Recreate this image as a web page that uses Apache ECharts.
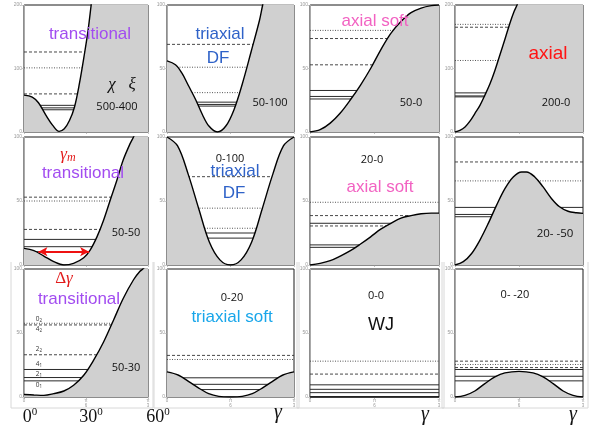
<!DOCTYPE html>
<html>
<head>
<meta charset="utf-8">
<script src="https://cdn.jsdelivr.net/npm/echarts@6/dist/echarts.min.js"></script>
<style>
  html, body { margin: 0; padding: 0; background: #fff; }
  #chart { width: 589px; height: 428px; }
</style>
</head>
<body>
<div id="chart"></div>
<script>
// Potential V(γ) for each parameter set, γ in degrees (0..60), as [γ, V] pairs
const curve500_400 = [[0,58],[4,55],[7,46],[10.5,27],[14,10],[17,1],[19.5,5],[22,18],[24.4,39],[26.8,76],[29.3,124],[31,160],[32.5,200],[34,240],[60,240]];
const curve50_100  = [[0,56],[4,53],[7,46.5],[10.3,36],[13.5,25.6],[16.7,13.8],[19.8,4.7],[23.8,0],[27.8,4.7],[31.7,17.8],[35.7,38.6],[39.7,63],[43.7,88],[45.2,100],[47,112],[60,120]];
const curve50_0    = [[0,0],[4.7,1.8],[9.4,7],[14.1,15],[18.8,25.4],[23.5,37],[28.2,50],[32.9,64.7],[37.6,77.7],[42.3,87],[47,94],[51.7,97.6],[56.4,99.5],[60,100]];
const curve200_0   = [[0,0],[2.3,2.6],[4.7,7.9],[7,17],[9.3,29],[11.7,42],[14,58],[16.4,76],[18.7,97],[21,121],[23.4,146],[25.7,171],[27.6,189],[29.1,200],[30.5,212],[60,230]];
const curve50_50   = [[0,13],[4.8,11.2],[9.6,7],[14.4,2.6],[19.3,0],[24,1.3],[28.9,5.7],[32,11.7],[35.3,22],[38.5,35],[41.7,50.6],[44.9,66],[48,82],[51.4,95],[53,100],[55,107],[60,115]];
const curve0_100   = [[0,100],[5,93],[10,71],[15,44],[20,18],[25,4],[30,0],[35,4],[40,18],[45,44],[50,71],[55,93],[60,100]];
const curve20_0    = [[0,0],[4.7,1.3],[9.4,3.4],[14.1,7],[18.8,11.2],[23.5,16.4],[28.2,22],[32.9,28],[37.6,32.6],[42.3,36.6],[47,38.6],[51.7,40],[56.4,40.5],[60,40.5]];
const curve20_m50  = [[0,0],[3.9,2.6],[7.8,9],[11.7,19.5],[15.6,32.5],[19.5,46.8],[23.4,59.7],[27.3,68.8],[31.2,72.7],[33.5,72.7],[37.4,68.8],[41.3,61],[45.2,52],[49,45.5],[53,42],[56.9,40.8],[60,40.3]];
const curve50_30   = [[0,2],[4.8,1.6],[9.6,1.3],[14.4,2.6],[19.3,4.7],[24,9.2],[28.9,17],[33.7,28.8],[38.5,43],[43.3,60],[48,77],[53,91.6],[56,98],[57.5,100],[60,104]];
const curve0_20    = [[0,19.6],[5.5,17],[10.3,12],[15,7],[19.7,2.6],[24.5,0.5],[30,0],[35.5,0.5],[40.3,2.6],[45,7],[49.7,12],[54.5,17],[60,19.6]];
const curve0_0     = [[0,0],[60,0]];
const curve0_m20   = [[0,0],[4.7,1.3],[9.3,4.7],[14,10.5],[18.7,15.7],[23.4,18.8],[30,20],[36.6,18.8],[41.3,15.7],[46,10.5],[50.7,4.7],[55.3,1.3],[60,0]];

// Energy levels for each parameter set, grouped by how the line is drawn
const levels500_400 = { solid: [35, 38, 42],       dashed: [60, 126],   dotted: [101] };
const levels50_100  = { solid: [20.4, 21.7, 23.5], dashed: [69],        dotted: [31, 51] };
const levels50_0    = { solid: [26, 28, 32.7],     dashed: [52.9, 73.6], dotted: [80] };
const levels200_0   = { solid: [55.3, 56.8, 61.6], dashed: [165],       dotted: [112.6, 169.5] };
const levels50_50   = { solid: [10.4, 14.3, 20],   dashed: [27.8, 53],  dotted: [50] };
const levels0_100   = { solid: [21, 25],           dashed: [69],        dotted: [28.7, 44.4] };
const levels20_0    = { solid: [13.8, 15.7, 32.6], dashed: [30.5, 38.6], dotted: [49] };
const levels20_m50  = { solid: [37.7, 39.5, 45],   dashed: [80.5],      dotted: [65.7] };
const levels50_30   = { solid: [12.6, 15.2, 21.5], dashed: [33, 56.3],  dotted: [57.6] };
const levels0_20    = { solid: [5.8, 9.9, 15],     dashed: [32.5],      dotted: [29.3] };
const levels0_0     = { solid: [3.4, 6, 9.5],      dashed: [17.9],      dotted: [28] };
const levels0_m20   = { solid: [12.6, 16.2, 21.5], dashed: [23, 28],    dotted: [25.4] };

// Ground-state width Δγ drawn in the 50-50 panel
const deltaGammaRange = [7, 31.5];
const deltaGammaLevel = 10.4;

// Parameter-set names and their y-axis maxima, in panel order
const panelNames = ['500-400', '50-100', '50-0', '200-0', '50-50', '0-100', '20-0', '20- -50', '50-30', '0-20', '0-0', '0- -20'];
const panelYMax  = [200, 100, 100, 200, 100, 100, 100, 100, 100, 100, 100, 100];
const panelCurves = [curve500_400, curve50_100, curve50_0, curve200_0, curve50_50, curve0_100, curve20_0, curve20_m50, curve50_30, curve0_20, curve0_0, curve0_m20];
const panelLevels = [levels500_400, levels50_100, levels50_0, levels200_0, levels50_50, levels0_100, levels20_0, levels20_m50, levels50_30, levels0_20, levels0_0, levels0_m20];

// γ axis: 0, π/6, π/3
const gammaTicks = [0, 30, 60];
const gammaTickLabels = ['0', 'π\n6', 'π\n3'];
const gammaDegreeLabels = ['0', '30', '60'];

const colLayout = [[24, 124], [167, 127], [310, 129], [455, 128]];
const rowLayout = [[5, 127], [137, 128], [269, 128]];

const grid = [], xAxis = [], yAxis = [], series = [];

panelNames.forEach((name, i) => {
  const c = colLayout[i % 4], r = rowLayout[Math.floor(i / 4)];
  const bottomRow = Math.floor(i / 4) === 2;
  grid.push({ left: c[0], top: r[0], width: c[1], height: r[1], show: true,
              borderColor: '#1a1a1a', borderWidth: 1, backgroundColor: '#fff' });
  xAxis.push({
    gridIndex: i, type: 'value', min: gammaTicks[0], max: gammaTicks[2], interval: gammaTicks[1],
    axisLine: { show: false },
    axisTick: { show: true, length: 2, lineStyle: { color: '#999', width: 0.6 } },
    splitLine: { show: false },
    axisLabel: {
      show: bottomRow, fontSize: 4.5, lineHeight: 4.5, color: '#999', margin: 2,
      formatter: v => gammaTickLabels[gammaTicks.indexOf(v)]
    }
  });
  const ymax = panelYMax[i];
  yAxis.push({
    gridIndex: i, type: 'value', min: 0, max: ymax, interval: ymax / 2,
    axisLine: { show: true, lineStyle: { color: '#aaa', width: 1 } },
    axisTick: { show: true, length: 2, lineStyle: { color: '#aaa', width: 0.6 } },
    splitLine: { show: false },
    axisLabel: { fontSize: 5, color: '#999', margin: 2 }
  });

  const lv = panelLevels[i];
  const styles = { solid: { type: 'solid', width: 1, color: '#2a2a2a' },
                   dashed: { type: [3, 2], width: 0.9, color: '#333' },
                   dotted: { type: [1, 1.5], width: 0.9, color: '#444' } };
  Object.keys(styles).forEach(kind => {
    lv[kind].forEach(E => {
      series.push({
        type: 'line', xAxisIndex: i, yAxisIndex: i, z: 1, silent: true,
        symbol: 'none', animation: false,
        data: [[gammaTicks[0], E], [gammaTicks[2], E]],
        lineStyle: styles[kind]
      });
    });
  });

  const s = {
    type: 'line', xAxisIndex: i, yAxisIndex: i, z: 3, silent: true, clip: true,
    symbol: 'none', smooth: 0.35, animation: false,
    data: panelCurves[i],
    lineStyle: { color: '#000', width: 1.4 },
    areaStyle: { color: '#d0d0d0', opacity: 1 }
  };
  if (name === '50-50') {
    s.markLine = {
      silent: true, animation: false, symbol: ['arrow', 'arrow'], symbolSize: [7, 9],
      label: { show: false },
      lineStyle: { color: '#ee1111', width: 2.2, type: 'solid' },
      data: [[{ coord: [deltaGammaRange[0], deltaGammaLevel] }, { coord: [deltaGammaRange[1], deltaGammaLevel] }]]
    };
  }
  series.push(s);
});

// Text annotations
const sans = '"Liberation Sans", Arial, sans-serif';
const num = '"Open Sans", "Liberation Sans", sans-serif';
const serif = '"Liberation Serif", "DejaVu Serif", serif';
const purple = '#a24cf0', blue = '#2f62c8', pink = '#f262c2', red = '#ff1414', sky = '#18a6ea';

function txt(x, y, text, size, color, family, extra) {
  return Object.assign({
    type: 'text', x, y, z: 100, silent: true,
    style: Object.assign({ text, fontSize: size, fill: color, fontFamily: family,
                           align: 'center', verticalAlign: 'middle' }, extra || {})
  });
}

const graphics = [
  txt(90, 34, 'transitional', 17, purple, sans),
  txt(122, 85, 'χ   ξ', 17, '#111', serif, { fontStyle: 'italic' }),
  txt(117, 107, panelNames[0], 11, '#111', num),

  txt(220, 34, 'triaxial', 17, blue, sans),
  txt(218, 58, 'DF', 17, blue, sans),
  txt(270, 103, panelNames[1], 11, '#111', num),

  txt(375, 21, 'axial soft', 17, pink, sans),
  txt(411, 103, panelNames[2], 11, '#111', num),

  txt(548, 54, 'axial', 19, red, sans),
  txt(556, 103, panelNames[3], 11, '#111', num),

  { type: 'text', x: 68, y: 155, z: 100, silent: true,
    style: { text: '{g|γ}{m|m}', align: 'center', verticalAlign: 'middle',
             rich: { g: { fontSize: 17, fill: '#e21b1b', fontFamily: serif, fontStyle: 'italic' },
                     m: { fontSize: 12, fill: '#e21b1b', fontFamily: serif, fontStyle: 'italic', padding: [6, 0, 0, 0] } } } },
  txt(83, 173, 'transitional', 17, purple, sans),
  txt(126, 233, panelNames[4], 11, '#111', num),

  txt(230, 159, panelNames[5], 11, '#111', num),
  txt(235, 171, 'triaxial', 17, blue, sans),
  txt(234, 193, 'DF', 17, blue, sans),

  txt(372, 160, panelNames[6], 11, '#111', num),
  txt(380, 187, 'axial soft', 17, pink, sans),

  txt(555, 234, panelNames[7], 11.5, '#111', num),

  { type: 'text', x: 64, y: 279, z: 100, silent: true,
    style: { text: '{d|Δ}{g|γ}', align: 'center', verticalAlign: 'middle',
             rich: { d: { fontSize: 17, fill: '#e21b1b', fontFamily: serif },
                     g: { fontSize: 17, fill: '#e21b1b', fontFamily: serif, fontStyle: 'italic' } } } },
  txt(79, 299, 'transitional', 17, purple, sans),
  txt(126, 368, panelNames[8], 11, '#111', num),

  txt(232, 298, panelNames[9], 11, '#111', num),
  txt(232, 317, 'triaxial soft', 17, sky, sans),

  txt(376, 296, panelNames[10], 11, '#111', num),
  txt(381, 325, 'WJ', 18, '#111', sans),

  txt(515, 295, panelNames[11], 11, '#111', num),

  txt(278, 413, 'γ', 20, '#111', serif, { fontStyle: 'italic' }),
  txt(425, 415, 'γ', 20, '#111', serif, { fontStyle: 'italic' }),
  txt(573, 415, 'γ', 20, '#111', serif, { fontStyle: 'italic' })
];

// Level labels in the 50-30 panel
[['0', '1', 385.5], ['2', '1', 374.5], ['4', '1', 364.5], ['2', '2', 349], ['4', '2', 329.5], ['0', '2', 319.5]].forEach(([n, k, y]) => {
  graphics.push({ type: 'text', x: 39, y, z: 100, silent: true,
    style: { text: '{n|' + n + '}{k|' + k + '}', align: 'center', verticalAlign: 'middle',
             rich: { n: { fontSize: 6.5, fill: '#333', fontFamily: num },
                     k: { fontSize: 4.5, fill: '#333', fontFamily: num, padding: [3, 0, 0, 0] } } } });
});

// Degree labels under the first column
[[30, 0], [91, 1], [158, 2]].forEach(([x, k]) => {
  graphics.push({ type: 'text', x, y: 417, z: 100, silent: true,
    style: { text: '{v|' + gammaDegreeLabels[k] + '}{s|0}', align: 'center', verticalAlign: 'middle',
             rich: { v: { fontSize: 18, fill: '#111', fontFamily: serif },
                     s: { fontSize: 11, fill: '#111', fontFamily: serif, padding: [0, 0, 9, 0] } } } });
});

// Faint frames around the bottom row panels
colLayout.forEach(c => {
  const l = c[0] - 13, rgt = c[0] + c[1] + 5, b = rowLayout[2][0] + rowLayout[2][1] + 11;
  graphics.push({ type: 'polyline', z: 0, silent: true,
    shape: { points: [[l, 262], [l, b], [rgt, b], [rgt, 262]] },
    style: { stroke: '#d8d8d8', lineWidth: 1, fill: null } });
});

const chart = echarts.init(document.getElementById('chart'), null, { renderer: 'canvas' });
chart.setOption({
  animation: false,
  backgroundColor: '#fff',
  grid, xAxis, yAxis, series,
  graphic: graphics
});
</script>
</body>
</html>
